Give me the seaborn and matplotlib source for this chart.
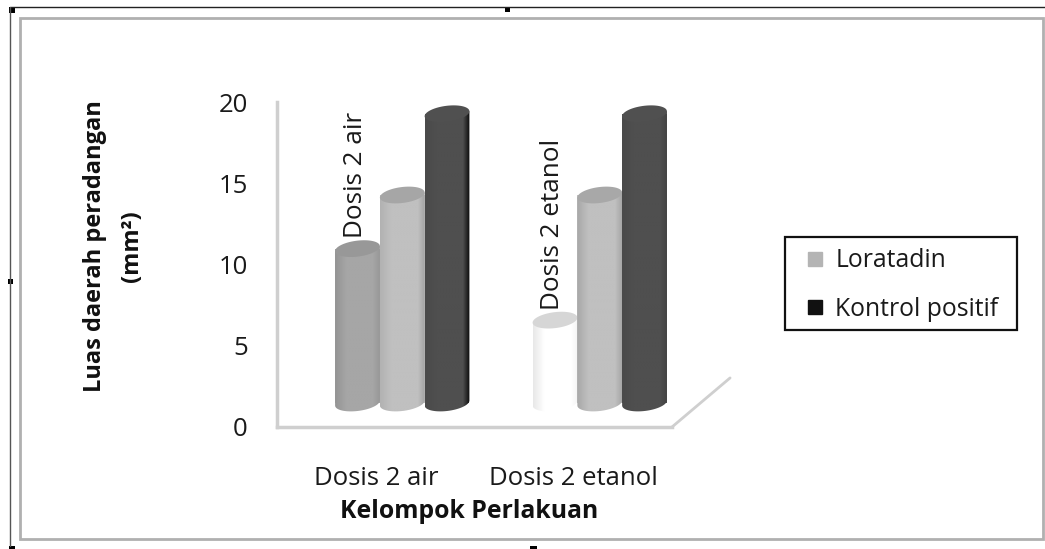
import numpy as np
import pandas as pd
import matplotlib
matplotlib.use("Agg")
import matplotlib.pyplot as plt
from matplotlib.lines import Line2D
from matplotlib.patches import Polygon, Rectangle
import seaborn as sns

# Luas daerah peradangan (mm2) per kelompok perlakuan
kelompok = ["Dosis 2 air", "Dosis 2 etanol"]
seri = ["Perlakuan", "Loratadin", "Kontrol positif"]
nilai_perlakuan = [9.5, 5.1]
nilai_loratadin = [12.8, 12.8]
nilai_kontrol = [17.8, 17.8]
y_ticks = [0, 5, 10, 15, 20]

W, H = 1045, 549
FONT = "Open Sans"

sns.set_theme(style="white")
plt.rcParams["font.family"] = [FONT, "DejaVu Sans"]
plt.rcParams["text.color"] = "#1a1a1a"


def px_box(left, top, right, bottom):
    """Axes rectangle from pixel edges, measured from the top left."""
    return [left / W, 1 - bottom / H, (right - left) / W, (bottom - top) / H]


df = pd.DataFrame({
    "kelompok": kelompok * 3,
    "seri": np.repeat(seri, 2),
    "luas": nilai_perlakuan + nilai_loratadin + nilai_kontrol,
})

fig = plt.figure(figsize=(W / 100, H / 100), dpi=100, facecolor="white")

# Page frame: thin outer line plus the grey chart border
fig.add_artist(Line2D([10 / W, 1], [1 - 7 / H, 1 - 7 / H], color="#222222", lw=1))
fig.add_artist(Line2D([9.5 / W, 9.5 / W], [1 - 7 / H, 0.005], color="#555555", lw=1))
fig.add_artist(Rectangle((20 / W, 1 - 539 / H), 1023 / W, 521 / H, fill=False,
                         edgecolor="#b0b0b0", lw=2, transform=fig.transFigure))
for bx, by, bw, bh in [(9, 7, 6, 6), (505, 7, 5, 5), (8, 279, 5, 5), (9, 546, 6, 3), (530, 546, 7, 3)]:
    fig.add_artist(Rectangle((bx / W, 1 - (by + bh) / H), bw / W, bh / H,
                             color="black", lw=0, transform=fig.transFigure))

# Back plane: the value scale, the walls and the category names
back = fig.add_axes(px_box(277, 102, 672, 427))
back.set_facecolor("none")
sns.barplot(data=df, x="kelompok", y="luas", hue="seri", ax=back, alpha=0, legend=False)
back.set_xlim(-0.5, 1.5)
back.set_ylim(0, 20)
back.set_yticks(y_ticks)
back.set_xlabel("")
back.set_ylabel("")
back.tick_params(axis="y", length=0, pad=21, labelsize=18.5, labelcolor="#1a1a1a")
back.tick_params(axis="x", length=0, pad=28, labelsize=18.5, labelcolor="#1a1a1a")
sns.despine(ax=back)
for side in ("left", "bottom"):
    back.spines[side].set_color("#cfcfcf")
    back.spines[side].set_linewidth(2.5)
back.plot([1, 1.147], [0, 0.151], transform=back.transAxes, color="#cfcfcf",
          lw=2, clip_on=False)

# Front plane: cylinders, shifted along the depth of the floor
front = fig.add_axes(px_box(303.5, 78, 698.5, 403))
front.set_facecolor("none")
front.axis("off")
sns.barplot(data=df, x="kelompok", y="luas", hue="seri", ax=front, width=0.68,
            gap=0, legend=False, saturation=1, linewidth=0)
front.set_xlim(-0.5, 1.5)
front.set_ylim(0, 20)

# (left shade, middle, right shade, cap) for each bar
warna = {
    (0, 0): ("#949494", "#a6a6a6", "#989898", "#989898"),
    (0, 1): ("#b2b2b2", "#c0c0c0", "#a4a4a4", "#a6a6a6"),
    (0, 2): ("#4a4a4a", "#4f4f4f", "#0c0c0c", "#505050"),
    (1, 0): ("#e8e8e8", "#ffffff", "#f4f4f4", "#d6d6d6"),
    (1, 1): ("#a8a8a8", "#c0c0c0", "#a8a8a8", "#a8a8a8"),
    (1, 2): ("#4a4a4a", "#4f4f4f", "#444444", "#505050"),
}

ry = 8 / 16.25      # half height of an end ellipse, in value units
skew = 2.5 / 16.25  # tilt of the end ellipses
t = np.linspace(0, 2 * np.pi, 80)
z = 2
for s, container in enumerate(front.containers):
    for k, bar in enumerate(container.patches):
        x0, w, v = bar.get_x(), bar.get_width(), bar.get_height()
        cx = x0 + w / 2
        kiri, tengah, kanan, tutup = warna[(k, s)]
        bar.set_facecolor(tengah)
        bar.set_zorder(z)

        # Body with a rounded foot, shaded across its width
        lower = np.linspace(np.pi, 2 * np.pi, 40)
        foot = np.c_[cx + w / 2 * np.cos(lower),
                     ry * np.sin(lower) + skew * np.cos(lower)]
        body = Polygon(np.vstack([foot, [[x0 + w, v + skew], [x0, v - skew]]]),
                       closed=True, transform=front.transData, fc="none", ec="none")
        body.set_clip_on(False)
        front.add_patch(body)
        rgb = np.array([matplotlib.colors.to_rgb(c) for c in (kiri, tengah, tengah, kanan)])
        posisi = np.linspace(0, 1, 60)
        band = np.stack([np.interp(posisi, [0, 0.25, 0.85, 1], rgb[:, i]) for i in range(3)], axis=-1)
        shade = front.imshow(band[np.newaxis, :, :], extent=(x0, x0 + w, -1, v + 1),
                             aspect="auto", zorder=z + 0.1, interpolation="bilinear")
        shade.set_clip_box(fig.bbox)
        shade.set_clip_path(body)

        # Top cap
        front.add_patch(Polygon(
            np.c_[cx + w / 2 * np.cos(t), v + ry * np.sin(t) + skew * np.cos(t)],
            closed=True, fc=tutup, ec="none", zorder=z + 0.2))
        z += 1

# Names of the first series written along the bars
for bar, nama in zip(front.containers[0].patches, kelompok):
    front.annotate(nama, (bar.get_x() + bar.get_width() / 2, bar.get_height()),
                   xytext=(-1.5, 7.5), textcoords="offset points", rotation=90,
                   ha="center", va="bottom", fontsize=18.8, color="#1a1a1a",
                   zorder=50, annotation_clip=False)
front.set_xlim(-0.5, 1.5)
front.set_ylim(0, 20)

# Axis titles
fig.text(469 / W, 1 - 511 / H, "Kelompok Perlakuan", ha="center", va="center",
         fontsize=17.8, fontweight="bold", color="#111111")
fig.text(113.5 / W, 1 - 246 / H, "Luas daerah peradangan\n(mm²)", ha="center", va="center",
         rotation=90, multialignment="center", fontsize=17, fontweight="bold",
         color="#111111", linespacing=1.75)

# Legend box and entries
fig.add_artist(Rectangle((785 / W, 1 - 330 / H), 232 / W, 93 / H, facecolor="white",
                         edgecolor="#111111", lw=1.6, transform=fig.transFigure))
handles = [Line2D([], [], marker="s", ls="none", ms=10, color="#b4b4b4", label="Loratadin"),
           Line2D([], [], marker="s", ls="none", ms=10, color="#111111", label="Kontrol positif")]
leg = fig.legend(handles=handles, loc="center left",
                 bbox_to_anchor=(785 / W, 1 - 285 / H), fontsize=17.8,
                 frameon=False, handlelength=1.46, handletextpad=0.08, numpoints=1,
                 labelspacing=0.95, borderpad=0.5, borderaxespad=0)

fig.savefig("out.png", dpi=100)
